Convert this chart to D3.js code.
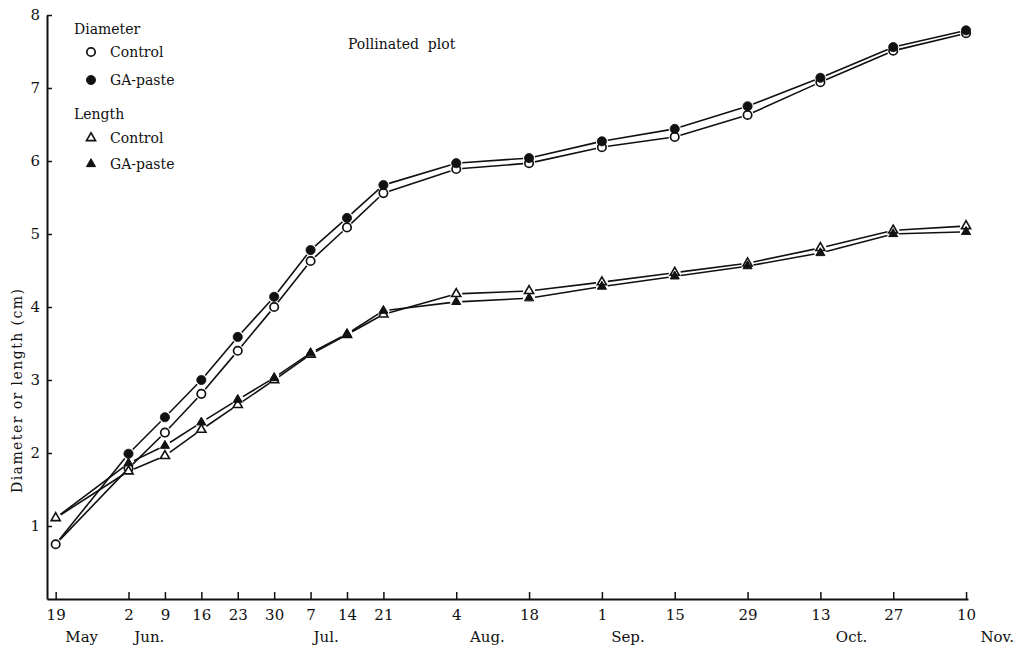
<!DOCTYPE html>
<html>
<head>
<meta charset="utf-8">
<script src="https://cdn.jsdelivr.net/npm/d3@7/dist/d3.min.js"></script>
<style>
  html, body { margin: 0; padding: 0; background: #fff; }
  svg { display: block; }
  text { font-family: "DejaVu Serif", "Liberation Serif", serif; fill: #111; }
</style>
</head>
<body>
<svg id="chart" width="1020" height="646"></svg>
<script>
// Sampling dates (month is 0-based)
const sampleDates = [
  [4, 19], [5, 2], [5, 9], [5, 16], [5, 23], [5, 30], [6, 7], [6, 14], [6, 21],
  [7, 4], [7, 18], [8, 1], [8, 15], [8, 29], [9, 13], [9, 27], [10, 10]
];

// Fruit diameter (cm)
const diameterControl = [0.75, 1.79, 2.28, 2.81, 3.40, 4.00, 4.63, 5.09, 5.56, 5.89, 5.97, 6.19, 6.33, 6.63, 7.08, 7.51, 7.75];
const diameterGA      = [0.75, 1.99, 2.49, 3.00, 3.59, 4.14, 4.78, 5.22, 5.67, 5.97, 6.04, 6.27, 6.44, 6.75, 7.14, 7.56, 7.79];

// Fruit length (cm)
const lengthControl = [1.11, 1.75, 1.96, 2.32, 2.66, 3.00, 3.35, 3.62, 3.90, 4.18, 4.22, 4.34, 4.47, 4.60, 4.81, 5.05, 5.11];
const lengthGA      = [1.11, 1.86, 2.10, 2.42, 2.73, 3.03, 3.37, 3.63, 3.95, 4.07, 4.12, 4.28, 4.42, 4.56, 4.74, 5.00, 5.03];

const yTicks = [1, 2, 3, 4, 5, 6, 7, 8];

// Month names set under the day numbers, each placed at a day of that month
const monthLabels = [
  { name: "May",  month: 4,  day: 24 },
  { name: "Jun.", month: 5,  day: 6 },
  { name: "Jul.", month: 6,  day: 10 },
  { name: "Aug.", month: 7,  day: 10 },
  { name: "Sep.", month: 8,  day: 6 },
  { name: "Oct.", month: 9,  day: 19 },
  { name: "Nov.", month: 10, day: 16 }
];

const YEAR = 2001;
const toDate = ([m, d]) => new Date(YEAR, m, d);
const dates = sampleDates.map(toDate);

const svg = d3.select("#chart");

const x = d3.scaleTime()
  .domain([d3.timeHour.offset(dates[0], -40), d3.timeHour.offset(dates[dates.length - 1], 9)])
  .range([47, 968]);

const y = d3.scaleLinear().domain([0, 8]).range([599, 15]);

// ---- axes ----
const xAxis = d3.axisBottom(x)
  .tickValues(dates)
  .tickFormat(d => d.getDate())
  .tickSize(-7)
  .tickSizeOuter(0)
  .tickPadding(10);

const gx = svg.append("g")
  .attr("transform", `translate(0,${y(0)})`)
  .call(xAxis);
gx.select(".domain").attr("stroke", "#111").attr("stroke-width", 2);
gx.selectAll(".tick line").attr("stroke", "#111").attr("stroke-width", 1.5);
gx.selectAll(".tick text")
  .style("font-family", '"DejaVu Serif", "Liberation Serif", serif')
  .style("font-size", "15px").attr("fill", "#111");

const yAxis = d3.axisLeft(y)
  .tickValues(yTicks)
  .tickFormat(d3.format("d"))
  .tickSize(-5)
  .tickSizeOuter(0)
  .tickPadding(7);

const gy = svg.append("g")
  .attr("transform", `translate(${x.range()[0]},0)`)
  .call(yAxis);
gy.select(".domain").attr("stroke", "#111").attr("stroke-width", 2);
gy.selectAll(".tick line").attr("stroke", "#111").attr("stroke-width", 1.5);
gy.selectAll(".tick text")
  .style("font-family", '"DejaVu Serif", "Liberation Serif", serif')
  .style("font-size", "15px").attr("fill", "#111");

// month names
svg.append("g").selectAll("text")
  .data(monthLabels)
  .join("text")
  .attr("x", d => x(new Date(YEAR, d.month, d.day)))
  .attr("y", y(0) + 43)
  .attr("text-anchor", "middle")
  .style("font-size", "15px")
  .text(d => d.name);

// y axis title
svg.append("text")
  .attr("transform", `translate(22,${(y(0) + y(8)) / 2 + 84}) rotate(-90)`)
  .attr("text-anchor", "middle")
  .attr("textLength", 204)
  .attr("lengthAdjust", "spacing")
  .style("font-size", "14px")
  .text("Diameter or length (cm)");

// plot title
svg.append("text")
  .attr("x", 348).attr("y", 49)
  .style("font-size", "14px")
  .attr("xml:space", "preserve")
  .text("Pollinated  plot");

// ---- series ----
const series = [
  { values: diameterControl, shape: "circle",   filled: false },
  { values: lengthControl,   shape: "triangle", filled: false },
  { values: diameterGA,      shape: "circle",   filled: true, base: diameterControl },
  { values: lengthGA,        shape: "triangle", filled: true, base: lengthControl }
];

const triangle = d3.symbol().type(d3.symbolTriangle).size(36);
const GAP = 6;  // lines stop short of each marker

const linesG = svg.append("g");
series.forEach(s => {
  const pts = s.values.map((v, i) => [x(dates[i]), y(v)]);
  const segs = d3.pairs(pts).map(([a, b]) => {
    const dx = b[0] - a[0], dy = b[1] - a[1];
    const len = Math.hypot(dx, dy);
    const ux = dx / len, uy = dy / len;
    return [a[0] + ux * GAP, a[1] + uy * GAP, b[0] - ux * GAP, b[1] - uy * GAP];
  });
  linesG.selectAll(null)
    .data(segs)
    .join("line")
    .attr("x1", d => d[0]).attr("y1", d => d[1])
    .attr("x2", d => d[2]).attr("y2", d => d[3])
    .attr("stroke", "#111")
    .attr("stroke-width", 1.6);
});

function drawMarker(g, shape, filled, cx, cy) {
  if (shape === "circle") {
    g.append("circle")
      .attr("cx", cx).attr("cy", cy).attr("r", filled ? 4.6 : 4.2)
      .attr("fill", filled ? "#111" : "#fff")
      .attr("stroke", "#111").attr("stroke-width", filled ? 0.8 : 1.7);
  } else {
    g.append("path")
      .attr("d", triangle())
      .attr("transform", `translate(${cx},${cy})`)
      .attr("fill", filled ? "#111" : "#fff")
      .attr("stroke", "#111").attr("stroke-width", filled ? 1 : 1.6)
      .attr("stroke-linejoin", "miter");
  }
}

const marksG = svg.append("g");
series.forEach(s => {
  s.values.forEach((v, i) => {
    // the shared starting point is shown by the control marker alone
    if (s.base && s.base[i] === v) return;
    drawMarker(marksG, s.shape, s.filled, x(dates[i]), y(v));
  });
});

// ---- legend ----
const legend = svg.append("g");
const legendRows = [
  { kind: "head", text: "Diameter", y: 34 },
  { kind: "item", shape: "circle",   filled: false, text: "Control",  y: 52 },
  { kind: "item", shape: "circle",   filled: true,  text: "GA-paste", y: 80 },
  { kind: "head", text: "Length", y: 119 },
  { kind: "item", shape: "triangle", filled: false, text: "Control",  y: 138 },
  { kind: "item", shape: "triangle", filled: true,  text: "GA-paste", y: 164 }
];
legendRows.forEach(r => {
  if (r.kind === "head") {
    legend.append("text").attr("x", 74).attr("y", r.y)
      .style("font-size", "14px").text(r.text);
  } else {
    drawMarker(legend, r.shape, r.filled, 91, r.y);
    legend.append("text").attr("x", 110).attr("y", r.y + 5)
      .style("font-size", "14px").text(r.text);
  }
});
</script>
</body>
</html>
